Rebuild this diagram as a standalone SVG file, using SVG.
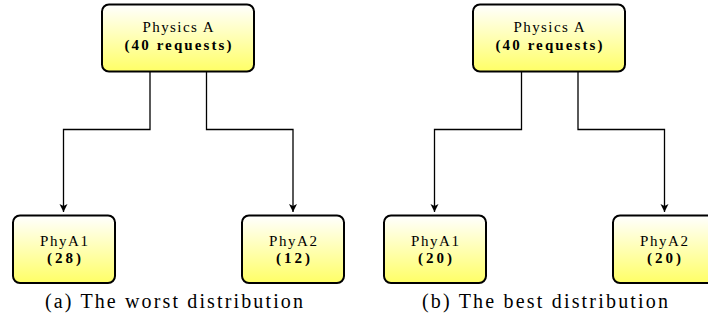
<svg xmlns="http://www.w3.org/2000/svg" width="708" height="320" viewBox="0 0 708 320">
<defs>
<linearGradient id="g" x1="0" y1="0" x2="0" y2="1">
<stop offset="0" stop-color="#ffffff"/>
<stop offset="1" stop-color="#ffff66"/>
</linearGradient>
<marker id="arr" viewBox="0 0 8 10" refX="8" refY="5" markerWidth="8" markerHeight="10" markerUnits="userSpaceOnUse" orient="auto">
<path d="M0,1 L8,5 L0,9 L2,5 Z" fill="#000"/>
</marker>
<style>
.box{fill:url(#g);stroke:#000;stroke-width:2}
.t{font-family:"Liberation Serif","DejaVu Serif",serif;font-size:15px;fill:#000;text-anchor:middle}
.b{font-weight:bold}
.cap{font-family:"Liberation Serif","DejaVu Serif",serif;font-size:20px;fill:#000;text-anchor:middle}
.c{fill:none;stroke:#000;stroke-width:1.3}
</style>
</defs>
<g id="connectors">
<path class="c" d="M150,72 V129.5 H63.5 V212" marker-end="url(#arr)"/>
<path class="c" d="M206.5,72 V129.5 H293 V212" marker-end="url(#arr)"/>
<path class="c" d="M521.5,72 V129.5 H434.5 V212" marker-end="url(#arr)"/>
<path class="c" d="M578,72 V129.5 H664.5 V212" marker-end="url(#arr)"/>
</g>
<g id="a-root">
<rect class="box" x="102" y="4.5" width="152" height="67" rx="7"/>
<text class="t" x="178" y="32" textLength="71">Physics A</text>
<text class="t b" x="178" y="50" textLength="107">(40 requests)</text>
</g>
<g id="a-phya1">
<rect class="box" x="13" y="215.5" width="102" height="67.5" rx="7"/>
<text class="t" x="64" y="246" textLength="48">PhyA1</text>
<text class="t b" x="64" y="263" textLength="34">(28)</text>
</g>
<g id="a-phya2">
<rect class="box" x="242" y="215.5" width="102" height="67.5" rx="7"/>
<text class="t" x="293" y="246" textLength="48">PhyA2</text>
<text class="t b" x="293" y="263" textLength="34">(12)</text>
</g>
<text class="cap" x="174" y="308" textLength="258">(a) The worst distribution</text>
<g id="b-root">
<rect class="box" x="473" y="4.5" width="152" height="67" rx="7"/>
<text class="t" x="549" y="32" textLength="71">Physics A</text>
<text class="t b" x="549" y="50" textLength="107">(40 requests)</text>
</g>
<g id="b-phya1">
<rect class="box" x="384" y="215.5" width="102" height="67.5" rx="7"/>
<text class="t" x="435" y="246" textLength="48">PhyA1</text>
<text class="t b" x="435" y="263" textLength="34">(20)</text>
</g>
<g id="b-phya2">
<rect class="box" x="613" y="215.5" width="102" height="67.5" rx="7"/>
<text class="t" x="664" y="246" textLength="48">PhyA2</text>
<text class="t b" x="664" y="263" textLength="34">(20)</text>
</g>
<text class="cap" x="545" y="308" textLength="246">(b) The best distribution</text>
</svg>
